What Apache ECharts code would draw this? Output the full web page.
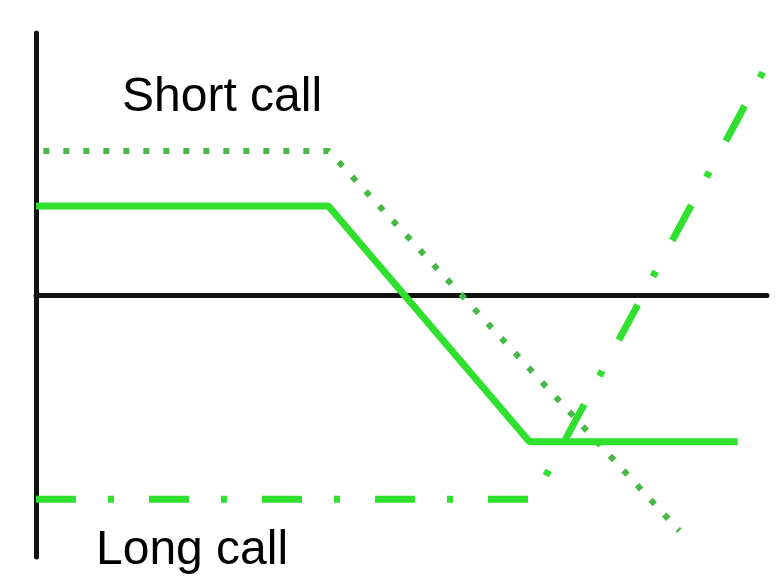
<!DOCTYPE html>
<html>
<head>
<meta charset="utf-8">
<script src="https://cdn.jsdelivr.net/npm/echarts@6/dist/echarts.min.js"></script>
<style>
  html, body { margin: 0; padding: 0; background: #fff; }
  #main { width: 779px; height: 577px; }
</style>
</head>
<body>
<div id="main"></div>
<script>
// payoff lines, x = underlying price (0..100), y = profit (-50..50)
const shortCallDotted = [[1, 27.5], [40, 27.5], [88, -45]];
const combinedSolid = [[0, 17], [40, 17], [67.5, -28], [96, -28]];
const longCallDashDot = [[0, -39], [68, -39], [100, 44]];

const labels = ['Short call', 'Long call'];

const dom = document.getElementById('main');
const myChart = echarts.init(dom);

const green = '#2fe02f';

const option = {
  animation: false,
  grid: { left: 36, right: 12, top: 33, bottom: 20 },
  xAxis: {
    type: 'value',
    min: 0,
    max: 100,
    axisLine: { show: true, onZero: true, lineStyle: { color: '#111', width: 5 } },
    axisTick: { show: false },
    axisLabel: { show: false },
    splitLine: { show: false }
  },
  yAxis: {
    type: 'value',
    min: -50,
    max: 50,
    axisLine: { show: true, lineStyle: { color: '#111', width: 5 } },
    axisTick: { show: false },
    axisLabel: { show: false },
    splitLine: { show: false }
  },
  series: [
    {
      type: 'line',
      data: shortCallDotted,
      symbol: 'none',
      lineStyle: { color: '#46b846', width: 6, type: [6, 14] }
    },
    {
      type: 'line',
      data: combinedSolid,
      symbol: 'none',
      lineStyle: { color: green, width: 7 }
    },
    {
      type: 'line',
      data: longCallDashDot,
      symbol: 'none',
      lineStyle: { color: green, width: 7, type: [40, 32, 6, 35] }
    }
  ],
  graphic: [
    {
      type: 'text',
      left: 122,
      top: 74,
      style: { text: labels[0], fill: '#000', font: '48px "Liberation Sans", Arial, sans-serif' }
    },
    {
      type: 'text',
      left: 96,
      top: 527,
      style: { text: labels[1], fill: '#000', font: '48px "Liberation Sans", Arial, sans-serif' }
    }
  ]
};

myChart.setOption(option);
window.addEventListener('resize', myChart.resize);
</script>
</body>
</html>
